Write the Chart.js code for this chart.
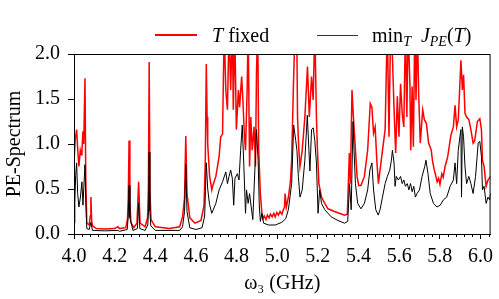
<!DOCTYPE html>
<html>
<head>
<meta charset="utf-8">
<script src="https://cdn.jsdelivr.net/npm/chart.js@4.4.1/dist/chart.umd.min.js"></script>
<style>
    body { margin: 0; background: #fff; }
    #wrap { position: relative; width: 499px; height: 299px; }
    .legend-line { position: absolute; }
    .legend-text { position: absolute; font-family: 'Liberation Serif', serif; font-size: 20px; color: #000; white-space: nowrap; line-height: 1; }
    .legend-text i { font-style: italic; }
    .legend-text sub { font-size: 14px; vertical-align: -4px; line-height: 0; }
</style>
</head>
<body>
<div id="wrap">
    <canvas id="chart" width="499" height="299"></canvas>
    <div class="legend-line" style="left:155px; top:34px; width:42px; height:2px; background:#ff0000;"></div>
    <div class="legend-text" style="left:212px; top:25px;"><i>T</i> fixed</div>
    <div class="legend-line" style="left:317px; top:35px; width:41px; height:1px; background:#333;"></div>
    <div class="legend-text" style="left:372px; top:25px;">min<sub><i>T</i></sub>&nbsp;&nbsp;<i>J</i><sub><i>PE</i></sub>(<i>T</i>)</div>
</div>
<script>
// x axis ticks
const xTicks = [4.0, 4.2, 4.4, 4.6, 4.8, 5.0, 5.2, 5.4, 5.6, 5.8, 6.0];
const yTicks = [0.0, 0.5, 1.0, 1.5, 2.0];

// T fixed (red)
const redOmega = [
    4.000, 4.006, 4.013, 4.018, 4.024, 4.031, 4.036, 4.039, 4.044, 4.048, 4.054, 4.058, 4.063, 4.075, 4.080, 4.083, 4.087, 4.091,
    4.110, 4.150, 4.200, 4.216, 4.224, 4.255, 4.263, 4.267, 4.271, 4.275, 4.280, 4.294, 4.310, 4.318, 4.325, 4.350, 4.362, 4.366,
    4.370, 4.374, 4.379, 4.400, 4.470, 4.520, 4.534, 4.544, 4.550, 4.556, 4.570, 4.595, 4.625, 4.640, 4.646, 4.651, 4.655, 4.658,
    4.667, 4.678,
    4.682, 4.698, 4.714, 4.722, 4.731, 4.739, 4.747, 4.755, 4.763, 4.771, 4.779, 4.784, 4.791, 4.799, 4.809, 4.815, 4.825, 4.831,
    4.838, 4.844, 4.852, 4.857, 4.864, 4.870, 4.877, 4.886, 4.893, 4.898, 4.904, 4.909, 4.917, 4.925, 4.930, 4.936, 4.945, 4.952,
    4.960, 4.967, 4.975, 4.983, 4.990, 4.998, 5.006, 5.014, 5.023, 5.030, 5.036, 5.039, 5.045, 5.055, 5.065, 5.071, 5.080, 5.088,
    5.096, 5.100, 5.106, 5.112, 5.123, 5.136, 5.149, 5.158, 5.169, 5.177, 5.185, 5.193, 5.198, 5.205, 5.218, 5.234, 5.250, 5.282,
    5.331, 5.345,
    5.355, 5.360, 5.368, 5.375, 5.385, 5.393, 5.401, 5.412, 5.429, 5.445, 5.458, 5.466, 5.474, 5.482, 5.490, 5.498, 5.506, 5.518,
    5.531, 5.537, 5.542, 5.550, 5.558, 5.567, 5.575, 5.583, 5.591, 5.599, 5.607, 5.615, 5.623, 5.631, 5.638, 5.644, 5.653, 5.657,
    5.664, 5.670, 5.677, 5.683, 5.690, 5.696, 5.704, 5.716, 5.724, 5.734, 5.745, 5.758, 5.765, 5.772, 5.781, 5.787, 5.794, 5.801,
    5.810, 5.817, 5.826, 5.839, 5.855, 5.867, 5.875, 5.883, 5.891, 5.899, 5.904, 5.911, 5.917, 5.924, 5.932, 5.943, 5.953, 5.964,
    5.972, 5.985, 5.997, 6.005, 6.010, 6.018, 6.028, 6.037, 6.050
];
const redPE = [
    0.80, 1.05, 1.16, 0.95, 0.75, 0.93, 0.88, 0.92, 1.14, 1.00, 1.73, 0.60, 0.12, 0.10, 0.20, 0.41, 0.15, 0.09,
    0.06, 0.055, 0.06, 0.08, 0.06, 0.07, 0.16, 0.40, 1.04, 0.35, 0.13, 0.07, 0.12, 0.58, 0.12, 0.08, 0.18, 0.50,
    1.91, 0.45, 0.16, 0.08, 0.06, 0.08, 0.19, 0.40, 1.09, 0.45, 0.18, 0.12, 0.15, 0.32, 0.80, 1.89, 1.30, 1.00,
    0.65, 0.49,
    0.53, 0.64, 0.86, 1.08, 1.11, 2.30, 1.60, 1.38, 2.30, 1.60, 2.30, 1.38, 2.30, 1.16, 1.60, 1.41, 1.75, 1.49,
    1.12, 0.93, 1.60, 2.30, 0.75, 1.30, 0.93, 1.19, 0.75, 1.80, 2.30, 0.93, 0.45, 0.22, 0.17, 0.20, 0.16, 0.21,
    0.18, 0.22, 0.19, 0.23, 0.19, 0.24, 0.21, 0.25, 0.22, 0.27, 0.30, 0.45, 0.30, 0.41, 0.58, 0.82, 1.67, 2.30,
    2.30, 1.30, 0.95, 0.75, 0.93, 1.30, 1.86, 1.30, 1.75, 1.49, 2.30, 1.30, 0.93, 0.56, 0.41, 0.34, 0.28, 0.25,
    0.21, 0.22,
    0.90, 0.56, 1.60, 1.30, 0.93, 0.64, 0.54, 0.54, 0.64, 0.93, 1.45, 1.41, 1.12, 1.19, 0.82, 0.56, 0.71, 0.93,
    1.16, 1.82, 2.30, 1.08, 2.30, 1.97, 1.38, 0.90, 1.53, 1.08, 1.67, 1.34, 1.19, 2.30, 1.30, 2.30, 1.67, 0.93,
    1.64, 0.97, 2.30, 1.49, 2.30, 1.56, 1.01, 1.38, 1.27, 1.23, 1.01, 0.93, 0.80, 0.72, 0.64, 0.58, 0.62, 0.55,
    0.67, 0.63, 0.75, 0.86, 1.10, 1.19, 1.43, 1.19, 1.27, 1.67, 1.93, 1.60, 1.77, 1.34, 1.30, 1.27, 1.16, 1.01,
    1.04, 1.25, 1.28, 1.16, 0.82, 0.75, 0.53, 0.60, 0.64
];

// min_T J_PE(T) (black)
const blackOmega = [
    4.000, 4.004, 4.008, 4.013, 4.018, 4.024, 4.031, 4.039, 4.044, 4.054, 4.058, 4.063, 4.075, 4.083, 4.091, 4.150, 4.216, 4.224,
    4.262, 4.267, 4.271, 4.275, 4.290, 4.312, 4.318, 4.324, 4.350, 4.363, 4.367, 4.370, 4.373, 4.378, 4.400, 4.520, 4.534, 4.544,
    4.550, 4.556, 4.570, 4.600, 4.630, 4.643, 4.651, 4.658, 4.667, 4.678,
    4.698, 4.714, 4.731, 4.747, 4.755, 4.763, 4.771, 4.779, 4.786, 4.792, 4.804, 4.812, 4.820, 4.828, 4.836, 4.844, 4.849, 4.857,
    4.864, 4.872, 4.880, 4.890, 4.898, 4.906, 4.912, 4.917, 4.925, 4.933, 4.958, 4.990, 5.023, 5.042, 5.055, 5.071, 5.081, 5.091,
    5.097, 5.104, 5.112, 5.123, 5.136, 5.148, 5.156, 5.161, 5.169, 5.177, 5.185, 5.193, 5.201, 5.209, 5.218, 5.234, 5.266, 5.299,
    5.331, 5.347, 5.356, 5.364, 5.373, 5.378, 5.385, 5.396, 5.412, 5.429, 5.445, 5.456, 5.466, 5.474, 5.485, 5.497, 5.506, 5.518,
    5.531, 5.542, 5.554, 5.562, 5.567, 5.575, 5.580, 5.586, 5.596, 5.607, 5.615, 5.623, 5.631, 5.640, 5.648, 5.656, 5.664, 5.672,
    5.680, 5.688, 5.700, 5.713, 5.726, 5.732, 5.742, 5.753, 5.769, 5.786, 5.802, 5.818, 5.834, 5.851, 5.867, 5.875, 5.883, 5.891,
    5.899, 5.904, 5.907, 5.911, 5.917, 5.924, 5.932, 5.943, 5.953, 5.964, 5.976, 5.989, 5.997, 6.005, 6.010, 6.018, 6.028, 6.037,
    6.045, 6.050
];
const blackPE = [
    0.12, 0.35, 0.65, 0.79, 0.45, 0.30, 0.40, 0.58, 0.32, 0.77, 0.35, 0.06, 0.05, 0.13, 0.04, 0.035, 0.04, 0.03,
    0.05, 0.20, 0.54, 0.18, 0.04, 0.06, 0.34, 0.06, 0.04, 0.10, 0.28, 0.91, 0.26, 0.09, 0.04, 0.04, 0.08, 0.25,
    0.77, 0.25, 0.07, 0.05, 0.07, 0.20, 0.79, 0.50, 0.33, 0.23,
    0.34, 0.49, 0.58, 0.69, 0.56, 0.64, 0.71, 0.62, 0.32, 0.62, 0.67, 0.60, 0.93, 1.21, 0.75, 0.23, 0.49, 0.34,
    0.45, 0.30, 0.16, 0.71, 1.16, 0.82, 0.30, 0.14, 0.23, 0.12, 0.10, 0.10, 0.13, 0.17, 0.27, 0.56, 1.21, 1.04,
    0.93, 0.64, 0.41, 0.49, 0.82, 1.32, 0.93, 0.70, 1.16, 1.18, 1.04, 0.79, 0.23, 0.49, 0.34, 0.27, 0.19, 0.15,
    0.12, 0.14, 0.56, 0.27, 1.25, 0.93, 0.56, 0.34, 0.28, 0.34, 0.49, 0.71, 0.79, 0.49, 0.27, 0.21, 0.27, 0.41,
    0.56, 0.64, 0.71, 0.82, 0.93, 0.79, 0.53, 0.64, 0.60, 0.64, 0.56, 0.60, 0.53, 0.56, 0.49, 0.56, 0.47, 0.53,
    0.41, 0.45, 0.49, 0.64, 0.75, 0.82, 0.67, 0.45, 0.34, 0.30, 0.32, 0.38, 0.41, 0.53, 0.60, 0.79, 0.56, 0.93,
    1.08, 1.16, 0.41, 1.19, 1.08, 0.75, 0.56, 0.64, 0.56, 0.45, 0.64, 1.01, 1.03, 0.86, 0.49, 0.53, 0.34, 0.41,
    0.38, 0.45
];

const FONT = "'Liberation Serif', serif";

// box around plot + minor ticks on the x axis
const framePlugin = {
    id: 'frame',
    afterDraw(chart) {
        const { ctx, chartArea } = chart;
        const xs = chart.scales.x;
        ctx.save();
        ctx.strokeStyle = '#000';
        ctx.lineWidth = 1;
        ctx.strokeRect(chartArea.left + 0.5, chartArea.top + 0.5, chartArea.right - chartArea.left - 1, chartArea.bottom - chartArea.top);
        ctx.beginPath();
        for (let i = 0; i <= 51; i++) {
            if (i % 5 === 0) continue;
            const px = Math.round(xs.getPixelForValue(4 + i * 0.04)) + 0.5;
            if (px > chartArea.right) break;
            ctx.moveTo(px, chartArea.bottom);
            ctx.lineTo(px, chartArea.bottom + 3);
        }
        ctx.stroke();
        ctx.restore();
    }
};

new Chart(document.getElementById('chart'), {
    type: 'line',
    data: {
        datasets: [
            {
                label: 'min_T J_PE(T)',
                data: blackOmega.map((x, i) => ({ x, y: blackPE[i] })),
                borderColor: '#000',
                borderWidth: 1,
                pointRadius: 0,
                tension: 0,
                order: 1
            },
            {
                label: 'T fixed',
                data: redOmega.map((x, i) => ({ x, y: redPE[i] })),
                borderColor: '#ff0000',
                borderWidth: 1.5,
                pointRadius: 0,
                tension: 0,
                order: 2
            }
        ]
    },
    options: {
        responsive: false,
        animation: false,
        devicePixelRatio: 1,
        layout: {
            padding: { left: 0, right: 3, top: 54, bottom: 0 }
        },
        plugins: {
            legend: { display: false },
            tooltip: { enabled: false }
        },
        scales: {
            x: {
                type: 'linear',
                min: 4.0,
                max: 6.05,
                afterFit(scale) { scale.height = 65; },
                afterBuildTicks(scale) { scale.ticks = xTicks.map(v => ({ value: v })); },
                grid: {
                    drawOnChartArea: false,
                    tickLength: 5,
                    color: '#000'
                },
                border: { color: '#000', width: 1 },
                ticks: {
                    color: '#000',
                    padding: 6,
                    font: { family: FONT, size: 20 },
                    maxRotation: 0,
                    callback: v => v.toFixed(1)
                },
                title: {
                    display: true,
                    text: 'ω₃ (GHz)',
                    color: '#000',
                    font: { family: FONT, size: 20 },
                    padding: { top: 0, bottom: 3 }
                }
            },
            y: {
                type: 'linear',
                min: 0,
                max: 2,
                afterFit(scale) { scale.width = 74; },
                afterBuildTicks(scale) { scale.ticks = yTicks.map(v => ({ value: v })); },
                grid: {
                    drawOnChartArea: false,
                    tickLength: 6,
                    color: '#000'
                },
                border: { color: '#000', width: 1 },
                ticks: {
                    color: '#000',
                    padding: 8,
                    font: { family: FONT, size: 20 },
                    callback: v => v.toFixed(1)
                },
                title: {
                    display: true,
                    text: 'PE-Spectrum',
                    color: '#000',
                    font: { family: FONT, size: 20 },
                    padding: { top: 3, bottom: 0 }
                }
            }
        }
    },
    plugins: [framePlugin]
});
</script>
</body>
</html>
